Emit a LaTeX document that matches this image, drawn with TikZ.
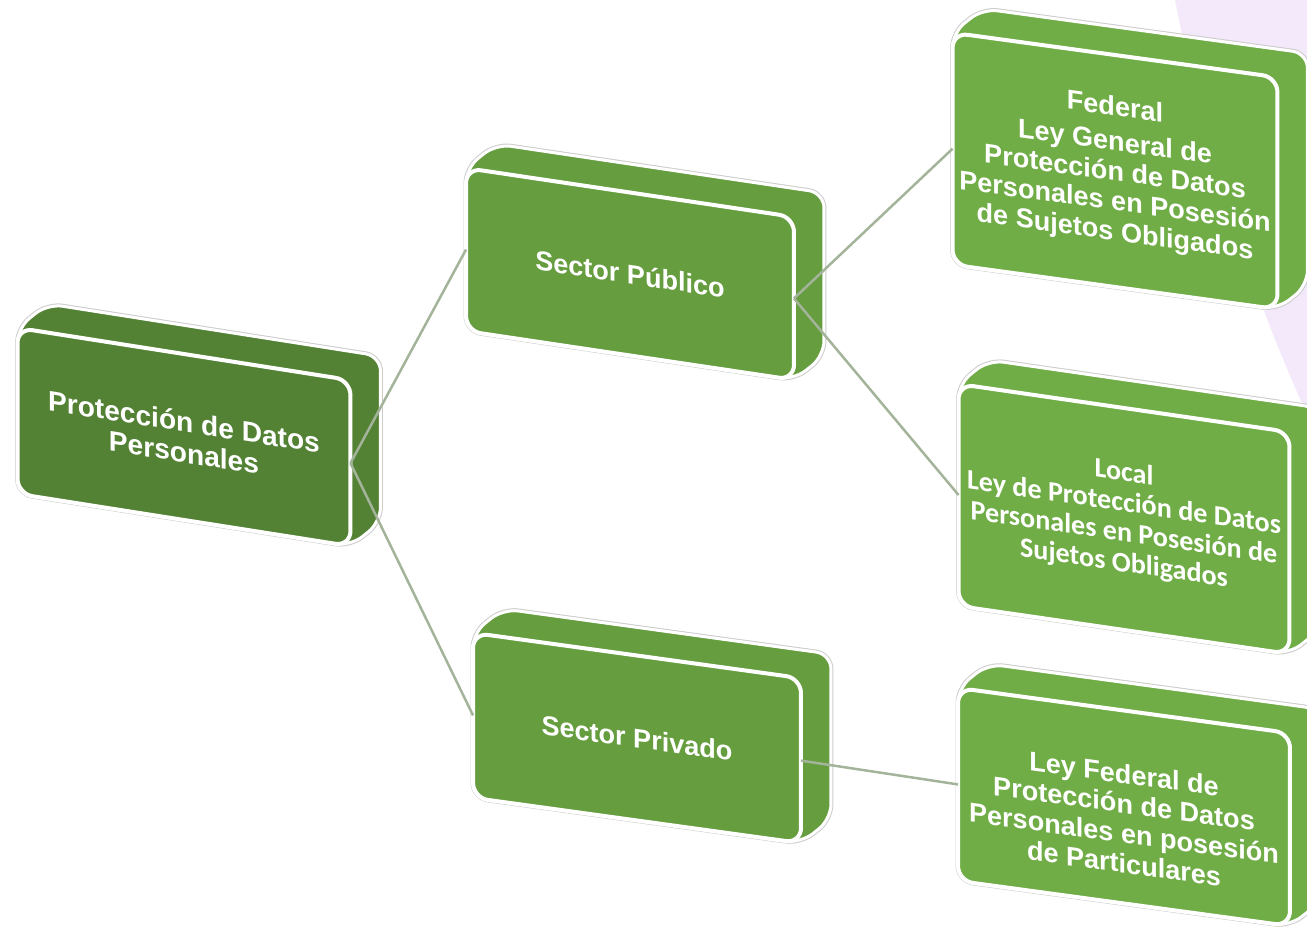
\documentclass[tikz,border=0pt]{standalone}
\usepackage{fontspec}
\setmainfont{Liberation Sans}
\newfontfamily\calibfont{Carlito}
\usetikzlibrary{backgrounds}
\definecolor{gdark}{HTML}{548235}
\definecolor{gmid}{HTML}{659D3F}
\definecolor{glight}{HTML}{70AD47}
\definecolor{lilac}{HTML}{F4E9FB}
\definecolor{linkgray}{HTML}{A3B49A}

\begin{document}
\begin{tikzpicture}[x=0.02cm, y=-0.02cm,
    face/.style={rectangle, rounded corners=0.3cm, draw=white, line width=0.08cm, text=white, align=center, transform shape, inner sep=0pt, outer sep=0pt, font=\bfseries\fontsize{15.4}{17}\selectfont},
    hull/.style={draw=white, line width=0.06cm, rounded corners=0.3cm, preaction={draw=black!20, line width=0.1cm}},
    link/.style={draw=linkgray, line width=0.05cm}
]
\useasboundingbox (0,0) rectangle (1307,928);
\clip (0,0) rectangle (1307,928);
\begin{scope}[on background layer]
  \fill[lilac] (3060,-372) circle (1921);
\end{scope}

% front faces
\begin{scope}[shift={(184,437)}, yslant=-0.157]
  \node[face, fill=gdark, minimum width=6.66cm, minimum height=3.32cm, font=\bfseries\fontsize{16}{17.5}\selectfont] (prot) {Protección de Datos\\Personales};
\end{scope}
\begin{scope}[shift={(630,274)}, yslant=-0.149]
  \node[face, fill=gmid, minimum width=6.56cm, minimum height=3.26cm] (pub) {Sector Público};
\end{scope}
\begin{scope}[shift={(637,738)}, yslant=-0.138]
  \node[face, fill=gmid, minimum width=6.56cm, minimum height=3.3cm] (priv) {Sector Privado};
\end{scope}
\begin{scope}[shift={(1115,171)}, yslant=-0.137]
  \node[face, fill=glight, minimum width=6.5cm, minimum height=4.64cm] (fed) {Federal\\[3pt]Ley General de\\Protección de Datos\\Personales en Posesión\\de Sujetos Obligados};
\end{scope}
\begin{scope}[shift={(1124,519)}, yslant=-0.145]
  \node[face, fill=glight, minimum width=6.62cm, minimum height=4.44cm, font=\calibfont\bfseries\fontsize{16}{17.2}\selectfont] (loc) {Local\\Ley de Protección de Datos\\Personales en Posesión de\\Sujetos Obligados};
\end{scope}
\begin{scope}[shift={(1124,807)}, yslant=-0.136]
  \node[face, fill=glight, minimum width=6.64cm, minimum height=3.86cm] (leyfed) {\rule{0pt}{0.85cm}Ley Federal de\\Protección de Datos\\Personales en posesión\\de Particulares};
\end{scope}

% back of each slab
\begin{scope}[on background layer]
\foreach \n/\c in {prot/gdark, pub/gmid, priv/gmid, fed/glight, loc/glight, leyfed/glight}
  \draw[hull, fill=\c] (\n.south west) -- (\n.north west) -- ([shift={(30,-24)}]\n.north west) -- ([shift={(30,-24)}]\n.north east) -- ([shift={(30,-24)}]\n.south east) -- (\n.south east) -- cycle;
\end{scope}

\draw[link] (prot.east) -- (pub.west);
\draw[link] (prot.east) -- (priv.west);
\draw[link] (pub.east) -- (fed.west);
\draw[link] (pub.east) -- (loc.west);
\draw[link] (priv.east) -- (leyfed.west);
\end{tikzpicture}
\end{document}
